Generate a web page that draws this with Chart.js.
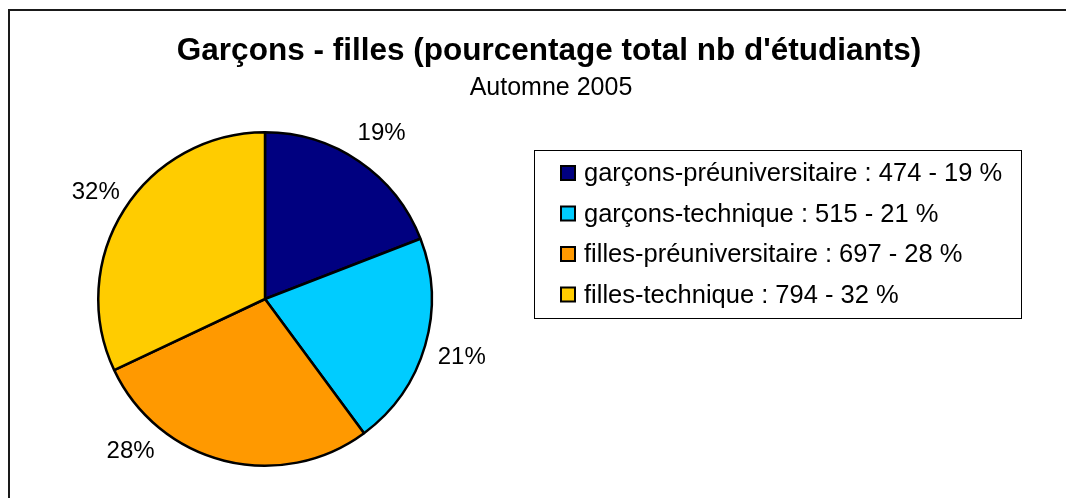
<!DOCTYPE html>
<html lang="fr">
<head>
<meta charset="utf-8">
<title>Garçons - filles</title>
<script src="https://cdn.jsdelivr.net/npm/chart.js@4/dist/chart.umd.min.js"></script>
<style>
  html, body { margin: 0; padding: 0; background: #fff; }
  #wrap { position: relative; width: 1066px; height: 498px; }
</style>
</head>
<body>
<div id="wrap"><canvas id="pieChart"></canvas></div>
<script>
// Data
const title = "Garçons - filles (pourcentage total nb d'étudiants)";
const subtitle = "Automne 2005";
const categories = [
  "garçons-préuniversitaire",
  "garçons-technique",
  "filles-préuniversitaire",
  "filles-technique",
];
const students = [474, 515, 697, 794];
const colors = ["#000080", "#00CCFF", "#FF9900", "#FFCC00"];

const total = students.reduce((a, b) => a + b, 0);
const percents = students.map((v) => Math.round((v / total) * 100));
const legendLabels = categories.map(
  (c, i) => c + " : " + students[i] + " - " + percents[i] + " %",
);

const FONT = "'Liberation Sans', Arial, sans-serif";

// Draw frame, title, percentage labels and the boxed legend
const decorations = {
  id: "decorations",
  afterDraw(chart) {
    const ctx = chart.ctx;
    ctx.save();

    // outer frame (right and bottom edges fall outside the picture)
    ctx.strokeStyle = "#1a1a1a";
    ctx.lineWidth = 2;
    ctx.beginPath();
    ctx.moveTo(9, chart.height + 5);
    ctx.lineTo(9, 10);
    ctx.lineTo(chart.width + 5, 10);
    ctx.stroke();

    // titles
    ctx.fillStyle = "#000";
    ctx.textAlign = "center";
    ctx.textBaseline = "alphabetic";
    ctx.font = "bold 31.5px " + FONT;
    ctx.fillText(title, 549, 60);
    ctx.font = "25px " + FONT;
    ctx.fillText(subtitle, 551, 95);

    // percentage labels outside each slice
    const meta = chart.getDatasetMeta(0);
    const labelMaxY = 449;
    ctx.font = "24px " + FONT;
    ctx.textBaseline = "middle";
    meta.data.forEach((arc, i) => {
      const r = arc.outerRadius + 36;
      let a = (arc.startAngle + arc.endAngle) / 2;
      if (arc.y + r * Math.sin(a) > labelMaxY) {
        const s = Math.asin((labelMaxY - arc.y) / r);
        const a1 = s;
        const a2 = Math.PI - s;
        a = Math.abs(a1 - a) < Math.abs(a2 - a) ? a1 : a2;
      }
      const x = arc.x + r * Math.cos(a);
      const y = arc.y + r * Math.sin(a);
      ctx.fillText(percents[i] + "%", x + 2, y + 2);
    });

    // legend box
    ctx.lineWidth = 1;
    ctx.strokeStyle = "#000";
    ctx.strokeRect(534.5, 150.5, 487, 168);
    ctx.font = "25.5px " + FONT;
    ctx.textAlign = "left";
    ctx.textBaseline = "alphabetic";
    legendLabels.forEach((label, i) => {
      const base = 181 + i * 40.5;
      ctx.fillStyle = colors[i];
      ctx.fillRect(561, base - 15, 14, 14);
      ctx.lineWidth = 2;
      ctx.strokeRect(561, base - 15, 14, 14);
      ctx.fillStyle = "#000";
      ctx.fillText(label, 584, base);
    });

    ctx.restore();
  },
};

const ctx = document.getElementById("pieChart").getContext("2d");

const chart = new Chart(ctx, {
  type: "pie",
  data: {
    labels: categories,
    datasets: [
      {
        data: students,
        backgroundColor: colors,
        borderColor: "#000",
        borderWidth: 2.5,
      },
    ],
  },
  options: {
    responsive: true,
    maintainAspectRatio: false,
    animation: false,
    events: [],
    layout: {
      padding: { left: 97, right: 633, top: 131, bottom: 31 },
    },
    plugins: {
      legend: { display: false },
      title: { display: false },
      tooltip: { enabled: false },
    },
  },
  plugins: [decorations],
});
</script>
</body>
</html>
